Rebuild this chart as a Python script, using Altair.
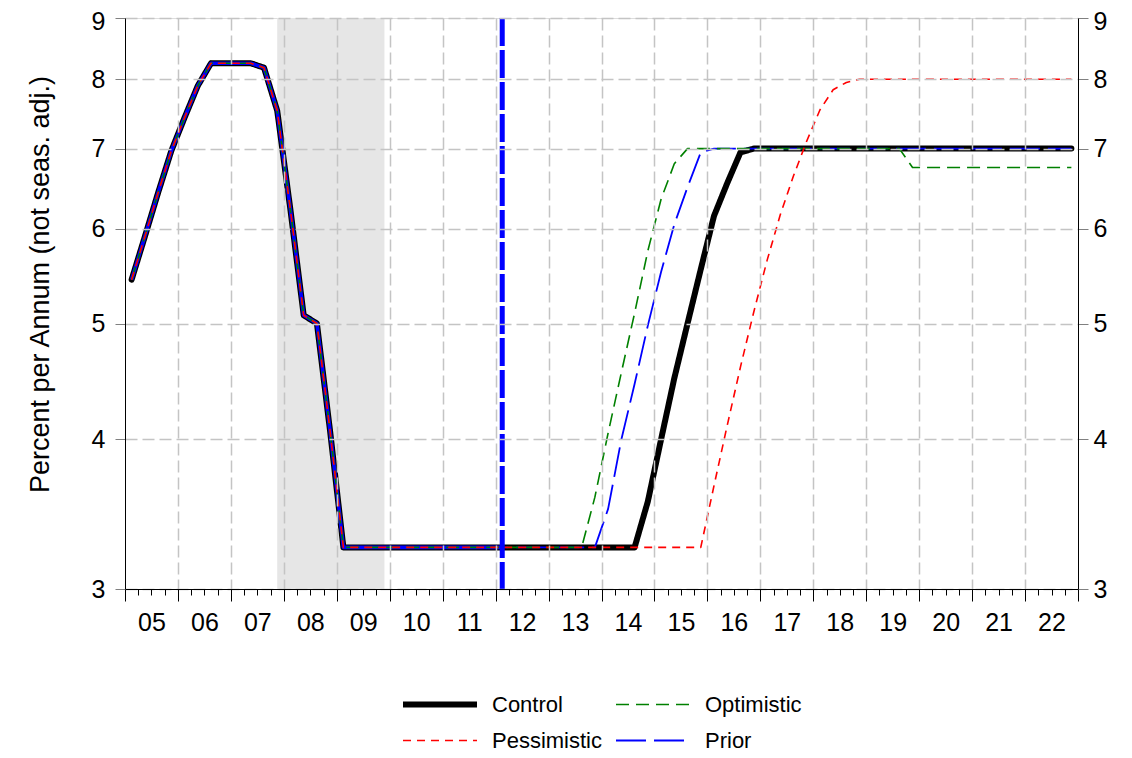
import altair as alt
import pandas as pd

FONT = "Liberation Sans Narrow, Arial Narrow, Liberation Sans, Arial, sans-serif"

# ---- data (quarterly, first quarter = 2005Q1) ----
START_YEAR = 2005
history = [5.44, 5.91, 6.43, 6.97, 7.43, 7.90, 8.25, 8.25, 8.25, 8.25, 8.18, 7.53,
           6.22, 5.08, 5.00, 4.06] + [3.25] * 13          # 2005Q1 .. 2012Q1
control_fc = [3.25] * 10 + [3.55, 4.0, 4.5, 5.0, 5.55, 6.15, 6.55, 6.95] + [7.0] * 25
optimistic_fc = [3.25] * 6 + [3.58, 4.05, 4.55, 5.1, 5.75, 6.35, 6.8] + [7.0] * 17 + [6.75] * 13
pessimistic_fc = [3.25] * 15 + [3.66, 4.11, 4.6, 5.11, 5.64, 6.16, 6.64, 7.1, 7.54, 7.84, 7.95] + [8.0] * 17
prior_fc = [3.25] * 7 + [3.5, 4.0, 4.45, 4.98, 5.52, 6.05, 6.5, 6.95] + [7.0] * 28   # 2012Q2 .. 2022Q4

series_names = ["Control", "Optimistic", "Pessimistic", "Prior"]
series_colors = ["black", "#008000", "#ff0000", "#0000ff"]
series_dash = [[1, 0], [13, 7], [8, 6], [30, 8]]
series_width = [6, 1.6, 1.6, 1.8]
forecasts = {"Control": control_fc, "Optimistic": optimistic_fc,
             "Pessimistic": pessimistic_fc, "Prior": prior_fc}

recession_start = [2007.875]
recession_end = [2009.9]
forecast_start = [2012.125]
y_ticks = [3, 4, 5, 6, 7, 8, 9]
x_ticks = [START_YEAR + i / 4 for i in range(73)]

rows = []
for name in series_names:
    vals = history + forecasts[name]
    for i, v in enumerate(vals):
        rows.append({"date": START_YEAR + (i + 0.5) / 4, "value": v, "series": name,
                     "hist": i < len(history)})
df = pd.DataFrame(rows)
rec_df = pd.DataFrame({"start": recession_start, "end": recession_end})
fc_df = pd.DataFrame({"date": forecast_start})

# ---- scales / axes ----
x_scale = alt.Scale(domain=[2005, 2023], nice=False, zero=False)
y_scale = alt.Scale(type="log", domain=[3, 9], nice=False, zero=False)

x_axis = alt.Axis(
    values=x_ticks,
    labelExpr="datum.value % 1 == 0.5 ? format(floor(datum.value) % 100, '02d') : ''",
    tickSize={"condition": {"test": "datum.value % 1 == 0", "value": 12}, "value": 6},
    gridOpacity={"condition": {"test": "datum.value % 1 == 0 && datum.value > 2005.1 && datum.value < 2022.9",
                               "value": 1}, "value": 0},
    grid=True, gridDash=[12, 5], gridColor="#c4c4c4", gridWidth=1.5,
    tickColor="black", domainColor="black", labelColor="black",
    labelFont=FONT, labelFontSize=25, labelPadding=15, labelOverlap=False,
    labelFlush=False, labelBound=False, zindex=1, title=None,
)
top_label_offset = {"condition": {"test": "datum.value == 9", "value": 3}, "value": 0}
y_axis_left = alt.Axis(
    values=y_ticks, format="d", grid=True, gridDash=[12, 5], gridColor="#c4c4c4", gridWidth=1.5,
    tickSize=10, tickColor="#808080", domainColor="black", labelColor="black",
    labelFont=FONT, labelFontSize=25, labelPadding=10, labelOffset=top_label_offset, zindex=1,
    title="Percent per Annum (not seas. adj.)", titleFont=FONT, titleFontSize=27,
    titleFontWeight="normal", titleColor="black", titleX=-85, titleY=266,
    titleAlign="center", titleBaseline="middle", titleAngle=270,
)
y_axis_right = alt.Axis(
    values=y_ticks, format="d", grid=False, orient="right",
    tickSize=10, tickColor="#808080", domainColor="black", labelColor="black",
    labelFont=FONT, labelFontSize=25, labelPadding=5, labelOffset=top_label_offset, zindex=1, title=None,
)

legend = alt.Legend(
    title=None, orient="none", legendX=275, legendY=674, columns=2, direction="horizontal",
    symbolType="stroke", symbolSize=5476, clipHeight=25, labelFont=FONT, labelFontSize=22,
    labelColor="black", columnPadding=10, rowPadding=11, labelOffset=12, padding=0,
)
color_enc = alt.Color("series:N", scale=alt.Scale(domain=series_names, range=series_colors), legend=legend)
dash_enc = alt.StrokeDash("series:N", scale=alt.Scale(domain=series_names, range=series_dash), legend=legend)
width_enc = alt.StrokeWidth("series:N", scale=alt.Scale(type="ordinal", domain=series_names, range=series_width),
                            legend=legend)

recession_layer = alt.Chart(rec_df).mark_rect(color="#e6e6e6").encode(
    x=alt.X("start:Q", scale=x_scale, axis=x_axis), x2="end:Q")


def series_layer(name, yaxis=None, cap="butt"):
    return alt.Chart(df).transform_filter(alt.datum.series == name).mark_line(
        strokeCap=cap, strokeJoin="round").encode(
        x=alt.X("date:Q", scale=x_scale, axis=x_axis),
        y=alt.Y("value:Q", scale=y_scale, axis=yaxis),
        color=color_enc, strokeDash=dash_enc, strokeWidth=width_enc,
    )


control_layer = series_layer("Control", y_axis_left, cap="round")
prior_hist_layer = alt.Chart(df).transform_filter(
    (alt.datum.series == "Prior") & alt.datum.hist).mark_line(
    color="#0000ff", strokeWidth=3.6, strokeJoin="round").encode(
    x=alt.X("date:Q", scale=x_scale, axis=x_axis),
    y=alt.Y("value:Q", scale=y_scale, axis=y_axis_right),
)
prior_layer = series_layer("Prior")
opt_layer = series_layer("Optimistic")
pes_layer = series_layer("Pessimistic")

rule_layer = alt.Chart(fc_df).mark_rule(color="#0000ff", strokeWidth=5, strokeDash=[28, 4]).encode(
    x=alt.X("date:Q", scale=x_scale, axis=x_axis))

chart = alt.layer(
    recession_layer, control_layer, prior_hist_layer, prior_layer, opt_layer, pes_layer, rule_layer
).resolve_axis(y="independent").properties(
    width=953, height=571,
    autosize=alt.AutoSizeParams(type="none"),
    padding={"left": 117, "top": 10, "right": 46, "bottom": 163},
).configure_view(stroke="black", strokeWidth=1).configure(background="white")

chart.save("out.html", embed_options={"renderer": "svg", "actions": False})
